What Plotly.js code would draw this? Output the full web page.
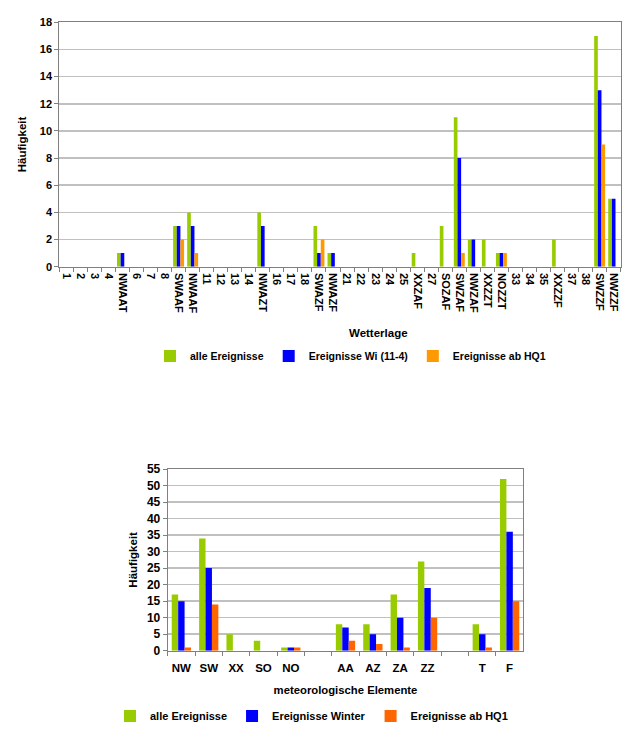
<!DOCTYPE html>
<html>
<head>
<meta charset="utf-8">
<script src="https://cdn.plot.ly/plotly-3.0.1.min.js"></script>
<style>html,body{margin:0;padding:0;background:#fff;}#chart{width:643px;height:750px;}</style>
</head>
<body>
<div id="chart"></div>
<script>
// ---- Top chart: Wetterlage ----
const wetterlagen = ['1','2','3','4','NWAAT','6','7','8','SWAAF','NWAAF','11','12','13','14','NWAZT','16','17','18','SWAZF','NWAZF','21','22','23','24','25','XXZAF','27','SOZAF','SWZAF','NWZAF','XXZZT','NOZZT','33','34','35','XXZZF','37','38','SWZZF','NWZZF'];
const wlAlle   = [0,0,0,0,1,0,0,0,3,4,0,0,0,0,4,0,0,0,3,1,0,0,0,0,0,1,0,3,11,2,2,1,0,0,0,2,0,0,17,5];
const wlWinter = [0,0,0,0,1,0,0,0,3,3,0,0,0,0,3,0,0,0,1,1,0,0,0,0,0,0,0,0,8,2,0,1,0,0,0,0,0,0,13,5];
const wlHQ1    = [0,0,0,0,0,0,0,0,2,1,0,0,0,0,0,0,0,0,2,0,0,0,0,0,0,0,0,0,1,0,0,1,0,0,0,0,0,0,9,0];

// ---- Bottom chart: meteorologische Elemente ----
const elemente      = ['NW','SW','XX','SO','NO','leer1','AA','AZ','ZA','ZZ','leer2','T','F'];
const elementLabels = ['NW','SW','XX','SO','NO','','AA','AZ','ZA','ZZ','','T','F'];
const elAlle   = [17,34,5,3,1,null,8,8,17,27,null,8,52];
const elWinter = [15,25,0,0,1,null,7,5,10,19,null,5,36];
const elHQ1    = [1,14,0,0,1,null,3,2,1,10,null,1,15];

const GREEN = '#99CC00', BLUE = '#0000FF', ORANGE_TOP = '#FF9900', ORANGE_BOT = '#FF6600';
const FONT = 'Liberation Sans, Arial, sans-serif';

function bar(x, y, name, color, xa, ya, legend, width, offset) {
  return {type:'bar', x:x, y:y, name:name, xaxis:xa, yaxis:ya, legend:legend,
    width:width, offset:offset, marker:{color:color, line:{width:0}}, hoverinfo:'x+y+name'};
}

const data = [
  bar(wetterlagen, wlAlle,   'alle Ereignisse',      GREEN,      'x',  'y',  'legend', 0.26, -0.39),
  bar(wetterlagen, wlWinter, 'Ereignisse Wi (11-4)', BLUE,       'x',  'y',  'legend', 0.26, -0.13),
  bar(wetterlagen, wlHQ1,    'Ereignisse ab HQ1',    ORANGE_TOP, 'x',  'y',  'legend', 0.26,  0.13),
  bar(elemente, elAlle,   'alle Ereignisse',   GREEN,      'x2', 'y2', 'legend2', 0.235, -0.3525),
  bar(elemente, elWinter, 'Ereignisse Winter', BLUE,       'x2', 'y2', 'legend2', 0.235, -0.1175),
  bar(elemente, elHQ1,    'Ereignisse ab HQ1', ORANGE_BOT, 'x2', 'y2', 'legend2', 0.235,  0.1175)
];

const W = 643, H = 750;
const tickFont = {family:FONT, size:11, color:'#000', weight:'bold'};
const axisCommon = {showline:true, mirror:true, linecolor:'#808080', linewidth:1,
  ticks:'outside', ticklen:4, tickcolor:'#808080', tickfont:tickFont, fixedrange:true};

const layout = {
  width:W, height:H, margin:{l:0,r:0,t:0,b:0},
  paper_bgcolor:'#fff', plot_bgcolor:'#fff',
  font:{family:FONT, size:11, color:'#000', weight:'bold'},
  barmode:'overlay', showlegend:true,
  xaxis: Object.assign({}, axisCommon, {
    domain:[59.3/W, 620.7/W], anchor:'y', type:'category',
    categoryorder:'array', categoryarray:wetterlagen,
    tickangle:90, tickson:'boundaries', showgrid:false, ticklabelstandoff:3
  }),
  yaxis: Object.assign({}, axisCommon, {
    domain:[1-266.7/H, 1-22.3/H], anchor:'x', range:[0,18], dtick:2,
    showgrid:true, gridcolor:'#C0C0C0', gridwidth:1.5, zeroline:false,
    title:{text:'Häufigkeit', standoff:10, font:{family:FONT, size:11.5, weight:'bold', color:'#000'}}
  }),
  xaxis2: Object.assign({}, axisCommon, {
    domain:[167.7/W, 523.3/W], anchor:'y2', type:'category',
    categoryorder:'array', categoryarray:elemente,
    tickmode:'array', tickvals:elemente, ticktext:elementLabels,
    tickangle:0, tickson:'boundaries', showgrid:false, ticklabelstandoff:6,
    tickfont:{family:FONT, size:11.5, color:'#000', weight:'bold'},
    title:{text:'meteorologische Elemente', standoff:13, font:{family:FONT, size:11.3, weight:'bold', color:'#000'}}
  }),
  yaxis2: Object.assign({}, axisCommon, {
    domain:[1-650.7/H, 1-469/H], anchor:'x2', range:[0,55], dtick:5,
    showgrid:true, gridcolor:'#C0C0C0', gridwidth:1.5, zeroline:false,
    tickfont:{family:FONT, size:12, color:'#000', weight:'bold'},
    title:{text:'Häufigkeit', standoff:6, font:{family:FONT, size:11.5, weight:'bold', color:'#000'}}
  }),
  annotations:[
    {text:'Wetterlage', xref:'paper', yref:'paper', x:378/W, y:1-333/H,
     xanchor:'center', yanchor:'middle', showarrow:false,
     font:{family:FONT, size:11.5, weight:'bold', color:'#000'}}
  ],
  legend:{orientation:'h', x:150/W, y:1-356/H, xanchor:'left', yanchor:'middle',
    font:{family:FONT, size:10.5, weight:'bold', color:'#000'}, bgcolor:'rgba(0,0,0,0)'},
  legend2:{orientation:'h', x:110/W, y:1-716/H, xanchor:'left', yanchor:'middle',
    font:{family:FONT, size:11, weight:'bold', color:'#000'}, bgcolor:'rgba(0,0,0,0)'}
};

Plotly.newPlot('chart', data, layout, {staticPlot:true, displayModeBar:false});
</script>
</body>
</html>
